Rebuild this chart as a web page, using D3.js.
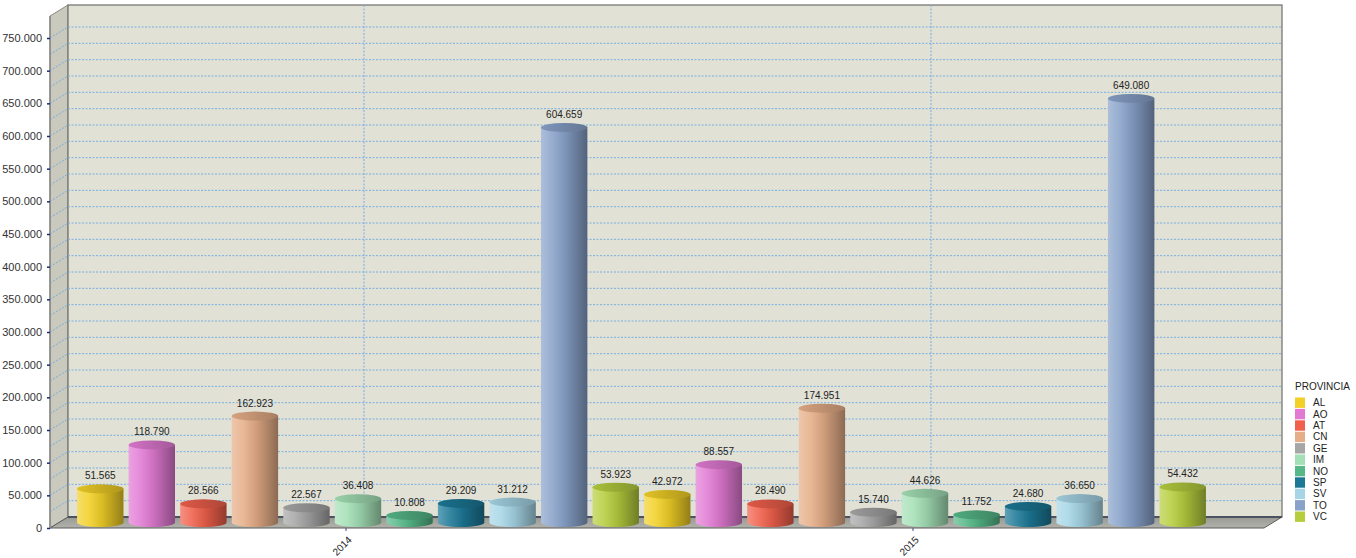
<!DOCTYPE html>
<html><head><meta charset="utf-8">
<script src="https://cdn.jsdelivr.net/npm/d3@7"></script>
<style>body{margin:0;background:#fff}svg{display:block}text{font-family:"Liberation Sans",Arial,sans-serif}</style>
</head><body><svg id="c" width="1356" height="558"></svg>
<script>
const years = ["2014", "2015"];
const provinces = ["AL","AO","AT","CN","GE","IM","NO","SP","SV","TO","VC"];
const values2014 = [51565,118790,28566,162923,22567,36408,10808,29209,31212,604659,53923];
const values2015 = [42972,88557,28490,174951,15740,44626,11752,24680,36650,649080,54432];
const colors = ["#f2d027","#e27ad4","#f0604c","#e6ae88","#a6a6a6","#a4e0b6","#56b888","#1c7896","#a6d6e6","#88a2ca","#b6ce3e"];
const yTicks = [0,50000,100000,150000,200000,250000,300000,350000,400000,450000,500000,550000,600000,650000,700000,750000];
const legendTitle = "PROVINCIA";

const svg = d3.select("#c");
const defs = svg.append("defs");
const X0 = 50, X1 = 1264, Y0 = 528, TOPF = 16, DX = 18, DY = -11;
const y = d3.scaleLinear().domain([0, 750000]).range([Y0, Y0 - 490]);
const x0 = d3.scaleBand().domain(years).range([65.5, 1199.5]);
const x1 = d3.scaleBand().domain(provinces).range([0, x0.bandwidth()]).paddingInner(0.1).paddingOuter(0.05);
const fmt = v => d3.format(",")(v).replace(/,/g, ".");

// walls
svg.append("polygon").attr("points", [[X0,TOPF],[X0+DX,TOPF+DY],[X0+DX,Y0+DY],[X0,Y0]].join(" "))
  .attr("fill","#c9c9bd").attr("stroke","#8a8a86").attr("stroke-width",1);
svg.append("rect").attr("x",X0+DX).attr("y",TOPF+DY).attr("width",X1-X0).attr("height",Y0-TOPF)
  .attr("fill","#e1e1d5").attr("stroke","#6e6e6e").attr("stroke-width",1.2);
const floorG = defs.append("linearGradient").attr("id","floorG").attr("x1",0).attr("y1",0).attr("x2",0).attr("y2",1);
floorG.append("stop").attr("offset","0%").attr("stop-color","#9a9a94");
floorG.append("stop").attr("offset","100%").attr("stop-color","#b2b2ac");
svg.append("polygon").attr("points", [[X0,Y0],[X0+DX,Y0+DY],[X1+DX,Y0+DY],[X1,Y0]].join(" "))
  .attr("fill","url(#floorG)").attr("stroke","#5a5a5a").attr("stroke-width",1);
svg.append("line").attr("x1",X0+DX).attr("x2",X1+DX).attr("y1",Y0+DY).attr("y2",Y0+DY)
  .attr("stroke","#3c4658").attr("stroke-width",1.5);

// gridlines
const gridVals = d3.range(25000, 750001, 25000);
const gg = svg.append("g");
gridVals.forEach(v => {
  gg.append("line").attr("x1",X0+DX).attr("x2",X1+DX).attr("y1",y(v)+DY).attr("y2",y(v)+DY)
    .attr("stroke","#78aee0").attr("stroke-width",1).attr("stroke-dasharray","2,1.5");
  gg.append("line").attr("x1",X0).attr("x2",X0+DX).attr("y1",y(v)).attr("y2",y(v)+DY)
    .attr("stroke","#78aee0").attr("stroke-width",1).attr("stroke-dasharray","2,1.5");
});
years.forEach(yr => {
  const cx = x0(yr) + x0.bandwidth()/2;
  gg.append("line").attr("x1",cx+DX-3).attr("x2",cx+DX-3).attr("y1",TOPF+DY).attr("y2",Y0+DY)
    .attr("stroke","#78aee0").attr("stroke-width",1).attr("stroke-dasharray","2,1.5");
  gg.append("line").attr("x1",cx-3).attr("x2",cx-3).attr("y1",Y0).attr("y2",Y0+3).attr("stroke","#3a4a8a");
});

// y axis
svg.append("line").attr("x1",X0).attr("x2",X0).attr("y1",TOPF).attr("y2",Y0).attr("stroke","#8a8a86").attr("stroke-width",1.5);
const yAxis = svg.append("g").attr("transform",`translate(${X0},0)`)
  .call(d3.axisLeft(y).tickValues(yTicks).tickFormat(fmt).tickSize(3).tickPadding(5));
yAxis.select(".domain").remove();
yAxis.selectAll(".tick line").attr("stroke","#1a2a7a").attr("stroke-width",1.5);
yAxis.selectAll(".tick text").attr("font-size","11px").attr("fill","#333").attr("font-family","Liberation Sans, Arial, sans-serif");

// gradients per color
colors.forEach((c,i) => {
  const col = d3.color(c);
  const g = defs.append("linearGradient").attr("id","bg"+i).attr("x1",0).attr("x2",1).attr("y1",0).attr("y2",0);
  g.append("stop").attr("offset","0%").attr("stop-color",d3.interpolateRgb(c,"#fff")(0.3));
  g.append("stop").attr("offset","25%").attr("stop-color",d3.interpolateRgb(c,"#fff")(0.12));
  g.append("stop").attr("offset","55%").attr("stop-color",col.darker(0.3));
  g.append("stop").attr("offset","100%").attr("stop-color",col.darker(1.4));
  const t = defs.append("linearGradient").attr("id","tg"+i).attr("x1",0).attr("x2",1).attr("y1",0).attr("y2",0);
  t.append("stop").attr("offset","0%").attr("stop-color",col.darker(0.2));
  t.append("stop").attr("offset","100%").attr("stop-color",col.darker(0.9));
});

// bars
const data = [];
years.forEach((yr, yi) => {
  const vals = yi === 0 ? values2014 : values2015;
  provinces.forEach((p, pi) => data.push({yr, p, pi, v: vals[pi]}));
});
const rx = x1.bandwidth()/2, ry = 4.5;
const bars = svg.append("g").selectAll("g").data(data).join("g");
bars.each(function(d) {
  const g = d3.select(this);
  const cx = x0(d.yr) + x1(d.p) + rx + DX/2;
  const base = Y0 + DY/2;
  const top = y(d.v) + DY/2;
  const path = `M${cx-rx},${top} L${cx-rx},${base} A${rx},${ry} 0 0 0 ${cx+rx},${base} L${cx+rx},${top} Z`;
  g.append("path").attr("d",path).attr("fill",`url(#bg${d.pi})`);
  g.append("ellipse").attr("cx",cx).attr("cy",top).attr("rx",rx).attr("ry",ry).attr("fill",`url(#tg${d.pi})`);
  g.append("text").attr("x",cx).attr("y",top-ry-5).attr("text-anchor","middle")
    .attr("font-size","10px").attr("fill","#222").text(fmt(d.v));
});

// x labels
years.forEach(yr => {
  const cx = x0(yr) + x0.bandwidth()/2;
  svg.append("text").attr("transform",`translate(${cx+1},${Y0+10}) rotate(-45)`)
    .attr("text-anchor","end").attr("dy","0.35em").attr("font-size","10px").attr("fill","#222").text(yr);
});

// legend
const lg = svg.append("g").attr("transform","translate(1295,0)");
lg.append("text").attr("x",0).attr("y",390).attr("font-size","10px").attr("fill","#222").text(legendTitle);
provinces.forEach((p,i) => {
  const yy = 397.5 + i*11.4;
  lg.append("rect").attr("x",0).attr("y",yy).attr("width",10).attr("height",10.4).attr("fill",colors[i]);
  lg.append("text").attr("x",18).attr("y",yy+5.2).attr("dy","0.35em").attr("font-size","10px").attr("fill","#222").text(p);
});
</script></body></html>
